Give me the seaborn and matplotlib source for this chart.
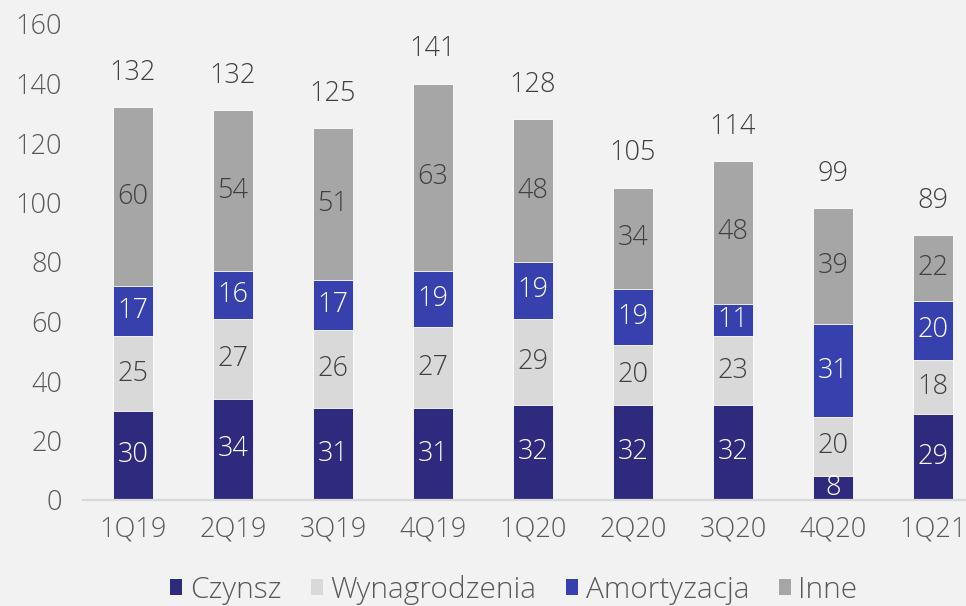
import matplotlib.pyplot as plt
import seaborn as sns
import numpy as np
import pandas as pd
from matplotlib.patches import Patch

# dane
kwartaly = ['1Q19', '2Q19', '3Q19', '4Q19', '1Q20', '2Q20', '3Q20', '4Q20', '1Q21']
czynsz = [30, 34, 31, 31, 32, 32, 32, 8, 29]
wynagrodzenia = [25, 27, 26, 27, 29, 20, 23, 20, 18]
amortyzacja = [17, 16, 17, 19, 19, 19, 11, 31, 20]
inne = [60, 54, 51, 63, 48, 34, 48, 39, 22]
sumy = [132, 132, 125, 141, 128, 105, 114, 99, 89]

TLO = '#f2f2f2'
FS = 19.5

sns.set_style('white')
plt.rcParams['font.family'] = ['Open Sans', 'DejaVu Sans']
plt.rcParams['font.weight'] = 'light'

fig = plt.figure(figsize=(9.66, 6.06), dpi=100, facecolor=TLO)
ax = fig.add_axes([83 / 966, 106 / 606, 883 / 966, 476 / 606])
ax.set_facecolor(TLO)

warstwy = [
    ('Czynsz', czynsz, '#2e2a7e', 'white'),
    ('Wynagrodzenia', wynagrodzenia, '#d9d9d9', '#404040'),
    ('Amortyzacja', amortyzacja, '#3641ae', 'white'),
    ('Inne', inne, '#a6a6a6', '#404040'),
]

# skumulowane wysokosci
dol = np.zeros(len(kwartaly))
pozycje = []
for nazwa, wartosci, kolor, kolor_txt in warstwy:
    w = np.array(wartosci, dtype=float)
    pozycje.append((dol.copy(), w))
    dol = dol + w

# rysowanie od gory, kazda warstwa przykrywa wyzsza
for (nazwa, wartosci, kolor, kolor_txt), (d, w) in reversed(list(zip(warstwy, pozycje))):
    df = pd.DataFrame({'kwartal': kwartaly, 'wartosc': d + w})
    sns.barplot(data=df, x='kwartal', y='wartosc', color=kolor, saturation=1,
                width=0.4, edgecolor='white', linewidth=0.6, ax=ax)

# etykiety w segmentach
for (nazwa, wartosci, kolor, kolor_txt), (d, w) in zip(warstwy, pozycje):
    for i, v in enumerate(wartosci):
        ax.text(i, d[i] + w[i] / 2, f'{v}', ha='center', va='center',
                fontsize=FS, color=kolor_txt)

# sumy nad slupkami
for i, s in enumerate(sumy):
    ax.text(i, dol[i] + 11.5, f'{s}', ha='center', va='center',
            fontsize=FS, color='#404040')

ax.set_xlim(-0.5, 8.33)
ax.set_ylim(0, 160)
ax.set_yticks(range(0, 161, 20))
ax.set_xlabel('')
ax.set_ylabel('')
ax.tick_params(axis='both', length=0, labelsize=FS, labelcolor='#595959')
ax.tick_params(axis='y', pad=15)
ax.tick_params(axis='x', pad=11)

for s in ['top', 'right', 'left']:
    ax.spines[s].set_visible(False)
ax.spines['bottom'].set_color('#d9d9d9')
ax.spines['bottom'].set_linewidth(1.6)

uchwyty = [Patch(facecolor=k, edgecolor='none', label=n) for n, _, k, _ in warstwy]
fig.legend(handles=uchwyty, loc='center', bbox_to_anchor=(0.532, 0.027), ncol=4,
           frameon=False, fontsize=21.5, labelcolor='#595959',
           handlelength=0.4, handleheight=0.4, handletextpad=0.25, columnspacing=1.0)

fig.savefig('out.png', dpi=100, facecolor=TLO)
